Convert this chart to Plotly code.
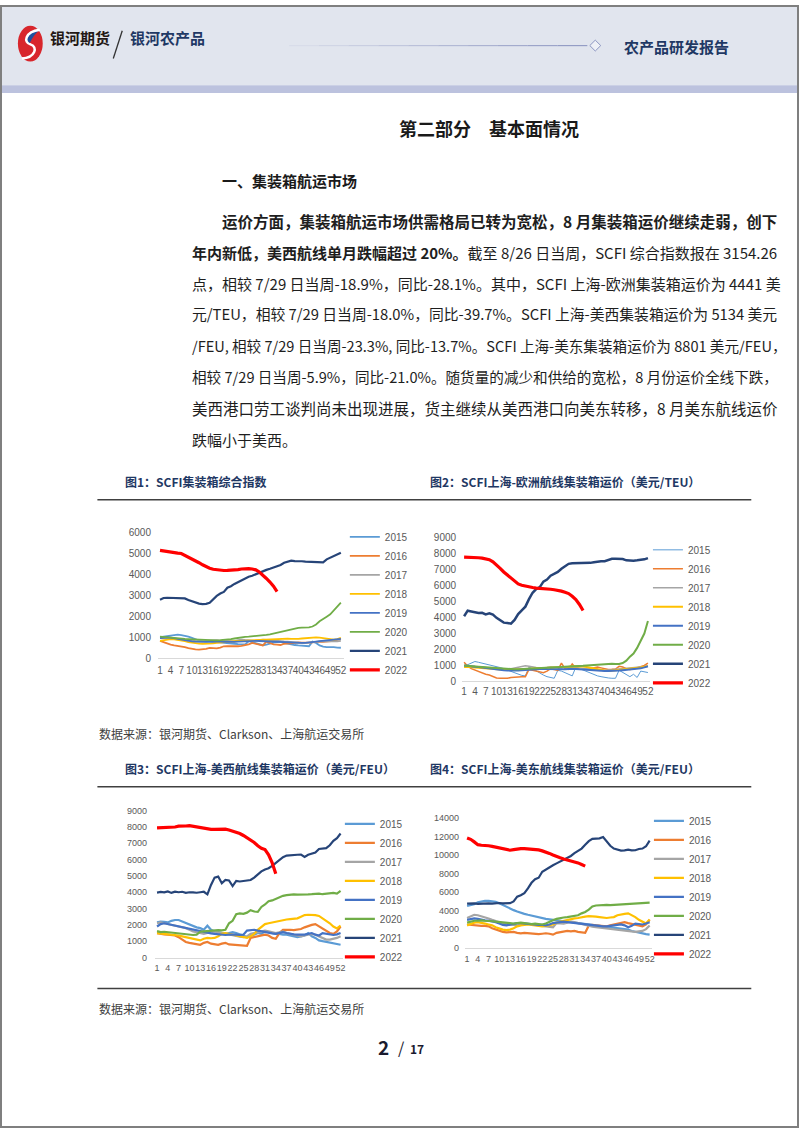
import plotly.graph_objects as go

W, H = 802, 1133
def fx(x): return x / W
def fy(y): return 1 - y / H
def P(x, y): return f"{fx(x):.5f},{fy(y):.5f}"

years = ["2015", "2016", "2017", "2018", "2019", "2020", "2021", "2022"]
year_colors = ["#5B9BD5", "#ED7D31", "#A5A5A5", "#FFC000", "#4472C4", "#70AD47", "#264478", "#FF0000"]
week_ticks = list(range(1, 53, 3))
week_labels = [str(w) for w in week_ticks]

# ---- 图1 SCFI综合指数 ----
c1_2015 = [1000,1020,1060,1090,1100,1110,1090,1060,1020,960, 880,830,800,780,770,760,760,750,730,720, 700,680,660,660,650,800,760,700,650,610, 640,700,730,760,780,720,680,640,620,600, 590,580,560,780,720,600,540,520,530,520, 500,490]
c1_2016 = [820,760,680,640,600,580,570,520,470,430, 410,400,410,440,480,470,460,500,560,570, 560,550,560,580,600,650,720,680,620,600, 780,700,650,640,620,680,700,720,740,740, 730,720,730,750,780,780,770,780,800,820, 860,920]
c1_2017 = [950,960,940,920,900,880,860,840,820,810, 800,790,800,820,840,860,850,830,820,800, 790,800,850,880,860,840,830,820,850,880, 860,840,820,810,800,790,780,760,740,720, 710,720,740,760,780,790,800,800,790,790, 800,820]
c1_2018 = [820,850,880,900,890,870,840,800,760,730, 700,690,680,680,690,700,720,740,760,780, 790,800,810,820,830,840,850,850,860,870, 880,880,890,900,910,920,920,910,900,910, 930,950,960,970,980,970,950,920,890,880, 900,960]
c1_2019 = [950,980,990,970,940,900,860,830,800,790, 780,770,760,770,780,790,790,780,770,760, 760,770,780,790,800,820,830,820,810,800, 790,780,770,760,760,750,740,730,720,720, 720,720,730,750,780,800,820,840,850,860, 880,910]
c1_2020 = [1020,1000,990,970,960,950,930,910,900,890, 880,870,860,850,850,840,840,850,860,880, 900,930,960,1000,1010,1020,1030,1040,1050,1080, 1100,1130,1170,1220,1260,1310,1350,1390,1420,1440, 1450,1450,1460,1500,1600,1750,1880,1970,2080,2250, 2420,2640]
c1_2021 = [2780,2860,2870,2860,2850,2850,2860,2840,2760,2700, 2640,2590,2570,2580,2630,2800,2960,3070,3150,3350, 3420,3530,3620,3710,3770,3870,3920,3990,4060,4150, 4200,4250,4300,4370,4430,4540,4600,4640,4620,4630, 4610,4590,4580,4560,4550,4550,4560,4700,4780,4860, 4940,5020]
c1_2022 = [5130,5100,5060,5030,5010,5000,4980,4900,4820,4740, 4640,4540,4440,4350,4280,4230,4200,4180,4170,4175, 4180,4190,4210,4240,4260,4260,4240,4200,4100,3960, 3790,3620,3420,3160]

# ---- 图2 上海-欧洲 (美元/TEU) ----
c2_2015 = [950,1050,1150,1250,1200,1150,1100,1050,1000,950, 870,800,720,650,550,450,380,350,900,800, 650,520,400,300,250,200,700,650,550,450, 350,900,800,700,600,500,400,350,300,250, 220,200,200,700,550,400,300,450,250,650, 600,560]
c2_2016 = [1200,950,800,700,600,500,450,400,300,220, 200,180,200,250,280,300,300,300,750,700, 650,600,550,650,800,750,700,1150,800,750, 1100,850,800,780,750,800,850,900,850,800, 750,760,780,950,900,800,750,780,850,950, 1000,1150]
c2_2017 = [900,920,950,930,900,880,860,840,800,780, 760,740,760,800,850,900,950,980,950,900, 880,860,850,870,900,880,860,850,900,880, 860,840,820,800,780,760,740,720,700,700, 720,740,760,780,800,820,850,870,880,900, 920,950]
c2_2018 = [900,920,900,880,860,840,820,800,780,760, 740,720,720,730,740,750,760,780,800,820, 830,840,850,860,870,880,890,900,910,920, 950,960,950,940,900,850,800,750,700,680, 660,680,700,720,750,780,800,820,850,880, 920,960]
c2_2019 = [1000,960,940,920,900,870,840,800,760,730, 710,700,690,680,680,690,700,720,740,760, 770,780,790,780,770,760,750,760,770,780, 790,780,760,740,720,700,690,680,670,660, 650,650,660,680,700,720,740,760,780,820, 880,950]
c2_2020 = [1000,990,970,950,920,900,880,860,840,820, 800,780,770,760,760,760,770,780,790,800, 810,820,830,840,850,860,870,880,890,900, 920,940,960,980,1000,1020,1040,1060,1080,1100, 1120,1110,1100,1100,1150,1300,1550,1750,2100,2600, 3000,3780]
c2_2021 = [4080,4430,4380,4350,4280,4300,4200,4260,4180,3980, 3800,3680,3660,3620,3850,4220,4450,4680,5150,5550, 5780,5900,6250,6380,6620,6750,6850,7050,7220,7360, 7400,7400,7380,7400,7380,7420,7460,7500,7520,7520, 7620,7670,7670,7680,7660,7580,7560,7560,7580,7600, 7640,7720]
c2_2022 = [7780,7780,7770,7760,7740,7720,7680,7620,7480,7300, 7080,6850,6650,6450,6250,6100,6020,5960,5930,5880, 5840,5830,5820,5800,5770,5740,5710,5650,5580,5500, 5330,5120,4820,4440]

# ---- 图3 上海-美西 (美元/FEU) ----
c3_2015 = [2150,2200,2180,2150,2250,2300,2300,2200,2100,2000, 1900,1850,1800,1700,1950,1700,1600,1550,1500,1450, 1500,1550,1500,1400,1300,1250,1300,1400,1500,1450, 1600,1550,1500,1450,1450,1400,1400,1350,1300,1250, 1300,1350,1500,1300,1200,1050,1000,950,900,850, 800,780]
c3_2016 = [1500,1450,1420,1400,1380,1350,1250,1100,950,900, 850,800,780,900,950,850,800,780,850,900, 800,780,760,780,750,720,1200,1250,1300,1350, 1400,1350,1200,1150,1500,1700,1720,1700,1680,1700, 1750,1850,1950,2000,2050,1900,1800,1650,1500,1450, 1600,1900]
c3_2017 = [2100,2150,2100,2050,2000,1950,1900,1850,1800,1700, 1600,1550,1500,1450,1500,1550,1600,1550,1500,1450, 1400,1350,1300,1280,1250,1300,1450,1500,1550,1600, 1650,1600,1550,1500,1550,1600,1500,1450,1400,1350, 1300,1350,1400,1450,1400,1300,1200,1100,1100,1150, 1200,1300]
c3_2018 = [1500,1480,1450,1420,1400,1380,1350,1300,1250,1200, 1150,1100,1050,1150,1200,1180,1200,1300,1450,1500, 1450,1400,1350,1300,1250,1200,1300,1450,1700,1900, 2050,2100,2150,2200,2250,2300,2330,2350,2380,2400, 2500,2600,2620,2630,2600,2550,2400,2300,2100,1900, 1780,1950]
c3_2019 = [1900,2050,2100,2050,2000,1950,1900,1850,1800,1750, 1700,1650,1600,1550,1500,1480,1450,1420,1400,1380, 1400,1420,1400,1380,1400,1650,1680,1700,1650,1600, 1550,1500,1480,1450,1500,1550,1500,1450,1420,1400, 1380,1400,1450,1500,1400,1350,1500,1450,1400,1380, 1420,1500]
c3_2020 = [1620,1560,1580,1550,1530,1500,1480,1450,1420,1400, 1380,1400,1580,1600,1620,1650,1700,1680,1660,1700, 2100,2250,2650,2700,2680,2750,2900,2820,2800,3100, 3250,3450,3500,3600,3700,3780,3820,3850,3870,3860, 3850,3860,3870,3880,3900,3920,3880,3900,3950,3960, 3920,4080]
c3_2021 = [3980,4020,3990,4050,3960,4040,4000,4030,3960,4000, 3990,3970,4000,4030,3870,4450,4900,4960,4550,4750, 4720,4380,4700,4660,4690,4700,4750,4900,5100,5280, 5400,5470,5620,5800,5930,6150,6250,6280,6290,6300, 6310,6170,6300,6380,6430,6650,6670,6700,6880,7150, 7320,7600]
c3_2022 = [7950,7960,7930,7940,7980,8000,8050,8030,8060,8080, 8040,8000,7950,7900,7870,7860,7860,7870,7880,7870, 7820,7760,7680,7600,7480,7350,7230,7050,6850,6700, 6620,6300,5800,5130]

# ---- 图4 上海-美东 (美元/FEU) ----
c4_2015 = [4500,4600,4700,4900,5000,5050,5050,5000,4950,4800, 4600,4400,4200,4050,3900,3750,3650,3550,3450,3350, 3250,3150,3100,3050,3000,2950,2900,2850,2800,2800, 2750,2700,2650,2600,2550,2500,2450,2400,2350,2300, 2250,2200,2150,2100,2050,1950,1800,1700,1600,1500, 1450,1400]
c4_2016 = [2500,2450,2400,2400,2350,2350,2300,2100,1950,1800, 1700,1650,1650,1700,1600,1550,1600,1550,1500,1500, 1450,1500,1550,1500,1400,1600,1650,1700,1800,1750, 1800,1700,1650,1600,2400,2450,2400,2350,2300,2300, 2400,2500,2600,2700,2750,2650,2550,2450,2350,2300, 2500,3000]
c4_2017 = [3200,3400,3550,3500,3400,3300,3150,3000,2850,2700, 2600,2550,2500,2450,2400,2450,2500,2550,2500,2450, 2400,2300,2250,2200,2200,2650,2600,2600,2700,2800, 2750,2650,2550,2400,2300,2250,2200,2150,2100,2050, 2000,1950,1900,1900,1850,1750,1700,1700,1750,1800, 2000,2400]
c4_2018 = [2400,2550,2700,2750,2700,2600,2500,2400,2200,2050, 1950,1900,1950,2100,2300,2400,2450,2500,2450,2400, 2350,2300,2350,2400,2500,2700,2800,2900,3000,3100, 3150,3200,3300,3350,3400,3400,3350,3300,3250,3200, 3250,3300,3500,3600,3650,3700,3500,3300,3000,2800, 2600,3050]
c4_2019 = [3000,3100,3150,3100,3000,2950,2900,2850,2750,2600, 2450,2400,2500,2600,2650,2650,2600,2550,2500,2500, 2450,2450,2400,2500,2650,2700,2750,2800,2750,2700, 2650,2600,2550,2550,2500,2450,2400,2350,2300,2300, 2350,2400,2450,2500,2400,2200,2350,2600,2550,2500, 2600,2750]
c4_2020 = [2700,2800,2900,2900,2950,2900,2900,2850,2800,2750, 2700,2650,2650,2600,2650,2700,2650,2600,2550,2600, 2550,2500,2600,2800,2950,3100,3200,3250,3300,3350, 3400,3500,3700,3850,4100,4450,4550,4600,4600,4620, 4600,4620,4650,4680,4700,4700,4720,4720,4750,4800, 4850,4870]
c4_2021 = [4750,4800,4780,4730,4760,4800,4780,4760,4800,4820, 4790,4810,4800,4990,5500,5650,5880,6400,7000,7380, 7550,8190,8450,8650,8900,9100,9300,9500,9700,9900, 10200,10450,10700,11100,11500,11750,11750,11800,11950,11500, 11000,10700,10550,10480,10500,10580,10500,10520,10650,10700, 10950,11550]
c4_2022 = [11850,11700,11420,11120,11060,11050,11000,10940,10850,10760, 10700,10640,10520,10580,10650,10700,10700,10680,10650,10620, 10560,10450,10350,10180,10000,9820,9700,9580,9480,9380, 9280,9150,8980,8800]

charts = [
    dict(series=[c1_2015, c1_2016, c1_2017, c1_2018, c1_2019, c1_2020, c1_2021, c1_2022],
         xdom=(158, 345), wk=(160, 342), ytop=531.7, ybot=659, ymax=6000, dtick=1000,
         ystand=6, xstand=3, tsize=10, leg=(346, 522),
         widths=[1.8, 1.8, 1.8, 1.8, 1.8, 1.8, 2.2, 3.2]),
    dict(series=[c2_2015, c2_2016, c2_2017, c2_2018, c2_2019, c2_2020, c2_2021, c2_2022],
         xdom=(464, 653), wk=(466, 651), ytop=537.3, ybot=682.7, ymax=9000, dtick=1000,
         ystand=5, xstand=1, tsize=10, leg=(651, 535),
         widths=[1.0, 1.5, 1.5, 2.0, 2.0, 2.0, 2.5, 3.2]),
    dict(series=[c3_2015, c3_2016, c3_2017, c3_2018, c3_2019, c3_2020, c3_2021, c3_2022],
         xdom=(155, 344), wk=(157, 341.7), ytop=813.3, ybot=961.7, ymax=9000, dtick=1000,
         ystand=7, xstand=2, tsize=9, leg=(341, 812),
         widths=[2.2, 2.2, 2.2, 2.2, 2.2, 2.2, 2.2, 3.2]),
    dict(series=[c4_2015, c4_2016, c4_2017, c4_2018, c4_2019, c4_2020, c4_2021, c4_2022],
         xdom=(467, 655), wk=(469, 652.7), ytop=820.7, ybot=951.7, ymax=14000, dtick=2000,
         ystand=5, xstand=3, tsize=9, leg=(652, 809),
         widths=[2.2, 2.2, 2.2, 2.2, 2.2, 2.2, 2.2, 3.2]),
]

fig = go.Figure()
layout = {}
tick_color = "#595959"
num_font = "Liberation Sans"

for ci, ch in enumerate(charts, start=1):
    sfx = "" if ci == 1 else str(ci)
    legname = "legend" if ci == 1 else f"legend{ci}"
    for yi, vals in enumerate(ch["series"]):
        fig.add_trace(go.Scatter(
            x=list(range(1, len(vals) + 1)), y=vals, mode="lines", name=years[yi],
            line=dict(color=year_colors[yi], width=ch["widths"][yi]),
            xaxis="x" + sfx, yaxis="y" + sfx, legend=legname, hoverinfo="skip"))
    ppw = (ch["wk"][1] - ch["wk"][0]) / 51
    xlo = 1 - (ch["wk"][0] - ch["xdom"][0]) / ppw
    xhi = 52 + (ch["xdom"][1] - ch["wk"][1]) / ppw
    yvals = list(range(0, ch["ymax"] + 1, ch["dtick"]))
    layout["xaxis" + sfx] = dict(
        domain=[fx(ch["xdom"][0]), fx(ch["xdom"][1])], range=[xlo, xhi],
        anchor="y" + sfx, tickmode="array", tickvals=week_ticks, ticktext=week_labels,
        tickangle=0, showgrid=False, zeroline=False, showline=True,
        linecolor="#d9d9d9", linewidth=1, ticks="", ticklabelstandoff=ch["xstand"],
        tickfont=dict(size=ch["tsize"], color=tick_color, family=num_font), fixedrange=True)
    layout["yaxis" + sfx] = dict(
        domain=[fy(ch["ybot"]), fy(ch["ytop"])], range=[0, ch["ymax"]],
        anchor="x" + sfx, tickmode="array", tickvals=yvals, ticktext=[str(v) for v in yvals],
        showgrid=False, zeroline=False, showline=False, ticks="",
        ticklabelstandoff=ch["ystand"],
        tickfont=dict(size=ch["tsize"], color=tick_color, family=num_font), fixedrange=True)
    layout[legname] = dict(
        x=fx(ch["leg"][0]), y=fy(ch["leg"][1]), xanchor="left", yanchor="top",
        bgcolor="rgba(0,0,0,0)", borderwidth=0, tracegroupgap=0, traceorder="normal",
        font=dict(size=10, color=tick_color, family=num_font))

cjk = "Noto Sans CJK SC"
navy = "#1f3864"
shapes = []
annos = []

def rect(x0, y0, x1, y1, fill, layer="below"):
    shapes.append(dict(type="rect", xref="paper", yref="paper", x0=fx(x0), x1=fx(x1),
                       y0=fy(y1), y1=fy(y0), fillcolor=fill,
                       line=dict(color=fill, width=0), layer=layer))

def hline(x0, x1, y, color, width):
    shapes.append(dict(type="line", xref="paper", yref="paper", x0=fx(x0), x1=fx(x1),
                       y0=fy(y), y1=fy(y), line=dict(color=color, width=width)))

def text(x, y, s, size, color, bold=False, anchor="left", family=cjk):
    annos.append(dict(xref="paper", yref="paper", x=fx(x), y=fy(y), text=("<b>%s</b>" % s) if bold else s,
                      showarrow=False, xanchor=anchor, yanchor="middle",
                      font=dict(size=size, color=color, family=family)))

# header
rect(0, 0, 802, 80, "#e1e5ee")
rect(0, 80, 802, 88, "#bcc2de")
# logo
shapes.append(dict(type="circle", xref="paper", yref="paper", x0=fx(17), x1=fx(42),
                   y0=fy(56), y1=fy(20), fillcolor="#d8262c", line=dict(width=0)))
shapes.append(dict(type="path", xref="paper", yref="paper",
                   path="M%s C%s %s %s C%s %s %s Z" % (P(38, 25), P(27, 24), P(22, 33), P(28, 39),
                                                      P(31, 34), P(33, 29), P(38, 25)),
                   fillcolor="#1d4f9c", line=dict(width=0)))
shapes.append(dict(type="path", xref="paper", yref="paper",
                   path="M%s C%s %s %s C%s %s %s" % (P(39, 24), P(24, 26), P(22, 37), P(30, 39),
                                                     P(37, 41), P(35, 52), P(21, 53)),
                   line=dict(color="white", width=2.5)))
text(47, 32, "银河期货", 15, "#231815", bold=True)
shapes.append(dict(type="line", xref="paper", yref="paper", x0=fx(122), x1=fx(113),
                   y0=fy(25), y1=fy(53), line=dict(color="#333333", width=1.3)))
text(128, 32, "银河农产品", 15, navy, bold=True)
for i in range(10):
    xa = 290 + i * 30
    shapes.append(dict(type="line", xref="paper", yref="paper", x0=fx(xa), x1=fx(xa + 30),
                       y0=fy(40), y1=fy(40), opacity=0.1 + i * 0.09,
                       line=dict(color="#8d96c2", width=1.2)))
shapes.append(dict(type="path", xref="paper", yref="paper",
                   path="M%s L%s L%s L%s Z" % (P(598, 34.5), P(603.5, 40), P(598, 45.5), P(592.5, 40)),
                   fillcolor="#eef0f6", line=dict(color="#8d96c2", width=1)))
text(625, 41, "农产品研发报告", 15, navy, bold=True)

# body text
text(398, 123, "第二部分　基本面情况", 18, "#1a1a1a", bold=True)
text(220, 176, "一、集装箱航运市场", 15, "#1a1a1a", bold=True)
para = [
    (220, 217, 15.5, "<b>运价方面，集装箱航运市场供需格局已转为宽松，8 月集装箱运价继续走弱，创下</b>"),
    (190, 249, 15, "<b>年内新低，美西航线单月跌幅超过 20%。</b>截至 8/26 日当周，SCFI 综合指数报在 3154.26"),
    (190, 280, 15, "点，相较 7/29 日当周-18.9%，同比-28.1%。其中，SCFI 上海-欧洲集装箱运价为 4441 美"),
    (190, 311, 14.8, "元/TEU，相较 7/29 日当周-18.0%，同比-39.7%。SCFI 上海-美西集装箱运价为 5134 美元"),
    (190, 343, 14.6, "/FEU, 相较 7/29 日当周-23.3%, 同比-13.7%。SCFI 上海-美东集装箱运价为 8801 美元/FEU，"),
    (190, 374, 14.6, "相较 7/29 日当周-5.9%，同比-21.0%。随货量的减少和供给的宽松，8 月份运价全线下跌，"),
    (190, 406, 15.5, "美西港口劳工谈判尚未出现进展，货主继续从美西港口向美东转移，8 月美东航线运价"),
    (190, 438, 15, "跌幅小于美西。"),
]
for x, y, sz, s in para:
    text(x, y, s, sz, "#1e1e1e")

# chart titles and rules
text(123, 481, "图1：SCFI集装箱综合指数", 12, navy, bold=True)
text(430, 481, "图2：SCFI上海-欧洲航线集装箱运价（美元/TEU）", 12, navy, bold=True)
hline(97, 755, 499, "#404040", 1.5)
text(97, 735, "数据来源：银河期货、Clarkson、上海航运交易所", 12, "#404040")
text(123, 771, "图3：SCFI上海-美西航线集装箱运价（美元/FEU）", 12, navy, bold=True)
text(430, 771, "图4：SCFI上海-美东航线集装箱运价（美元/FEU）", 12, navy, bold=True)
hline(97, 755, 789, "#404040", 1.5)
hline(97, 755, 993, "#404040", 1.5)
text(97, 1013, "数据来源：银河期货、Clarkson、上海航运交易所", 12, "#404040")

# page number
text(377, 1052, "2", 19, "#1a1a2e", bold=True)
text(397, 1052, "/", 16, "#1a1a2e")
text(410, 1054, "17", 12, "#1a1a2e", bold=True)

# page border
shapes.append(dict(type="rect", xref="paper", yref="paper", x0=0, x1=1, y0=0, y1=1,
                   line=dict(color="#7f7f7f", width=2), fillcolor="rgba(0,0,0,0)", layer="above"))

fig.update_layout(
    width=W, height=H, margin=dict(l=0, r=0, t=0, b=0),
    paper_bgcolor="white", plot_bgcolor="rgba(0,0,0,0)",
    showlegend=True, shapes=shapes, annotations=annos, hovermode=False,
    **layout)

fig.write_html("out.html")
